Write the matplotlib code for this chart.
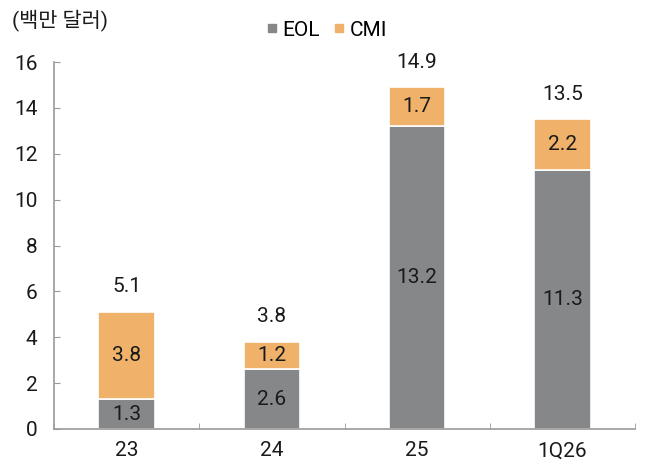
import matplotlib
matplotlib.use("Agg")
import matplotlib.pyplot as plt
from matplotlib.lines import Line2D
import numpy as np

plt.rcParams['font.family'] = ['Roboto', 'Noto Sans CJK KR', 'DejaVu Sans']

categories = ["23", "24", "25", "1Q26"]
eol = [1.3, 2.6, 13.2, 11.3]
cmi = [3.8, 1.2, 1.7, 2.2]
totals = [5.1, 3.8, 14.9, 13.5]
yticks = [0, 2, 4, 6, 8, 10, 12, 14, 16]

gray = "#858789"
orange = "#F0B26A"
axis_col = "#9a9a9a"
text_col = "#1a1a1a"

fig = plt.figure(figsize=(6.45, 4.63), dpi=100)
ax = fig.add_axes([54/645, 1 - 429/463, (635 - 54)/645, (429 - 62)/463])

x = np.arange(len(categories))
w = 0.39
ax.bar(x, eol, width=w, color=gray, edgecolor="white", linewidth=1.2)
ax.bar(x, cmi, width=w, bottom=eol, color=orange, edgecolor="white", linewidth=1.2)

fs = 15
for i in range(len(categories)):
    ax.text(x[i], eol[i] / 2, f"{eol[i]:.1f}", ha="center", va="center", fontsize=fs, color=text_col)
    ax.text(x[i], eol[i] + cmi[i] / 2, f"{cmi[i]:.1f}", ha="center", va="center", fontsize=fs, color=text_col)
    ax.text(x[i], totals[i] + 1.1, f"{totals[i]:.1f}", ha="center", va="center", fontsize=fs, color=text_col)

ax.set_xlim(-0.5, len(categories) - 0.5)
ax.set_ylim(0, 16)
ax.set_yticks(yticks)
ax.set_yticklabels([str(v) for v in yticks], fontsize=fs)
ax.set_xticks(x)
ax.set_xticklabels(categories, fontsize=fs)
ax.set_xticks(np.arange(-0.5, len(categories)), minor=True)

ax.tick_params(axis="y", direction="in", length=4, color=axis_col, pad=12, labelcolor=text_col)
ax.tick_params(axis="x", which="major", length=0, pad=9, labelcolor=text_col)
ax.tick_params(axis="x", which="minor", direction="in", length=4, color=axis_col)

for s in ["top", "right"]:
    ax.spines[s].set_visible(False)
for s in ["left", "bottom"]:
    ax.spines[s].set_color(axis_col)
    ax.spines[s].set_linewidth(1.2)

fig.text(12/645, 1 - 20/463, "(백만 달러)", fontsize=fs, va="center", ha="left", color=text_col)

handles = [
    Line2D([], [], marker="s", linestyle="none", color=gray, markersize=6),
    Line2D([], [], marker="s", linestyle="none", color=orange, markersize=6),
]
fig.legend(handles, ["EOL", "CMI"], loc="center", bbox_to_anchor=(327/645, 1 - 30/463),
           ncol=2, frameon=False, fontsize=fs, handlelength=0.5, handletextpad=0.25,
           columnspacing=0.7)

fig.savefig("out.png", dpi=100)
